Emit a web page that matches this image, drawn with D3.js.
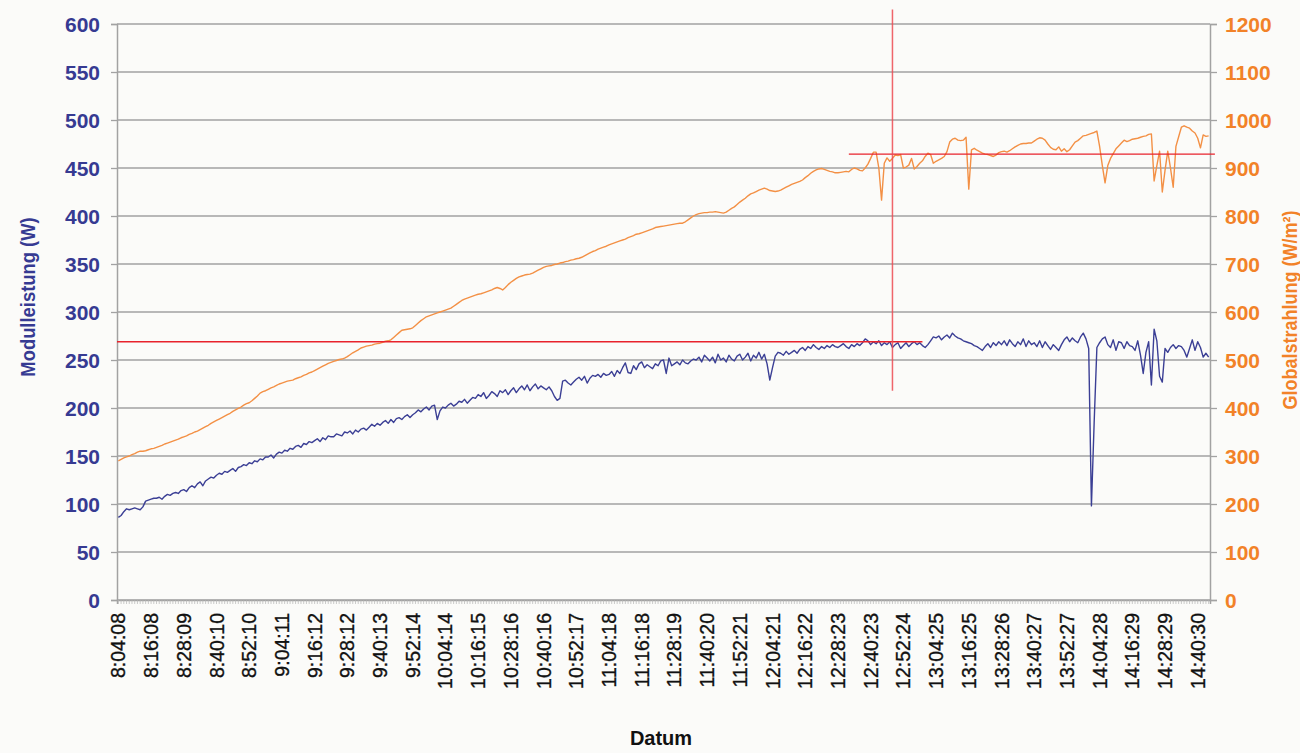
<!DOCTYPE html>
<html>
<head>
<meta charset="utf-8">
<script src="https://cdn.jsdelivr.net/npm/d3@7"></script>
<style>
  html, body { margin: 0; padding: 0; background: #fbfbf9; }
  svg { display: block; }
  text { font-family: "Liberation Sans", Arial, sans-serif; }
</style>
</head>
<body>
<svg id="chart" width="1300" height="753"></svg>
<script>
// Time stamps printed on the category axis (one every 12 samples)
const timeLabels = [
  "8:04:08", "8:16:08", "8:28:09", "8:40:10", "8:52:10", "9:04:11", "9:16:12", "9:28:12",
  "9:40:13", "9:52:14", "10:04:14", "10:16:15", "10:28:16", "10:40:16", "10:52:17", "11:04:18",
  "11:16:18", "11:28:19", "11:40:20", "11:52:21", "12:04:21", "12:16:22", "12:28:23", "12:40:23",
  "12:52:24", "13:04:25", "13:16:25", "13:28:26", "13:40:27", "13:52:27", "14:04:28", "14:16:29",
  "14:28:29", "14:40:30"
];
const labelEvery = 12;

// Module power in W, one sample per minute
const modulleistung = [
  86, 88, 92, 95, 94, 95, 96, 95, 94, 97, 103, 104,
  105, 106, 106, 107, 105, 108, 110, 109, 111, 112, 111, 114,
  115, 113, 117, 119, 117, 121, 123, 119, 124, 126, 128, 127,
  130, 132, 131, 134, 133, 135, 137, 134, 138, 139, 141, 140,
  143, 142, 145, 144, 147, 146, 149, 149, 151, 148, 152, 154,
  153, 156, 155, 158, 157, 160, 161, 159, 163, 162, 165, 164,
  166, 168, 165, 169, 167, 171, 170, 170, 173, 172, 171, 175,
  174, 176, 173, 177, 175, 178, 179, 177, 180, 183, 181, 184,
  182, 185, 187, 184, 188, 185, 189, 190, 188, 191, 193, 190,
  193, 195, 198, 196, 199, 201, 198, 202, 203, 188, 197, 201,
  200, 203, 205, 202, 204, 207, 206, 209, 205, 208, 211, 210,
  214, 212, 216, 210, 213, 217, 215, 212, 218, 216, 219, 214,
  218, 221, 216, 220, 223, 219, 224, 218, 222, 225, 220, 223,
  221, 219, 222, 218, 212, 208, 210, 228, 229, 226, 224, 227,
  230, 232, 229, 233, 226, 231, 234, 233, 235, 232, 236, 234,
  235, 238, 233, 239, 236, 242, 247, 237, 236, 244, 240, 246,
  248, 242, 245, 243, 241, 246, 244, 249, 250, 236, 252, 244,
  246, 248, 245, 250, 247, 246, 249, 251, 250, 253, 248, 255,
  252, 249, 253, 247, 256, 250, 252, 248, 255, 251, 249, 254,
  256, 250, 253, 257, 249, 255, 252, 258, 251, 256, 246, 229,
  242, 254, 258, 257, 255, 259, 256, 258, 260, 257, 261, 263,
  260, 264, 262, 266, 263, 261, 264, 262, 265, 263, 266, 264,
  263, 265, 267, 264, 262, 266, 264, 267, 265, 268, 272, 270,
  266, 269, 267, 270, 265, 268, 266, 269, 263, 266, 268, 262,
  265, 268, 264, 267, 269, 266, 268, 265, 263, 266, 270, 274,
  273, 275, 271, 274, 276, 273, 278, 275, 273, 272, 270, 269,
  268, 267, 265, 264, 262, 260, 264, 267, 263, 268, 265, 269,
  266, 270, 265, 271, 267, 264, 269, 266, 272, 264, 270, 266,
  268, 264, 270, 263, 269, 265, 261, 266, 263, 260, 266, 271,
  274, 269, 273, 270, 268, 274, 278, 272, 262, 98, 185, 263,
  268, 272, 274, 266, 263, 271, 260, 269, 268, 262, 269, 265,
  264, 260, 270, 255, 236, 258, 269, 224, 282, 270, 233, 227,
  262, 258, 263, 266, 262, 265, 264, 260, 253, 262, 271, 260,
  269, 263, 253, 257, 253
];

// Global irradiance in W/m², same samples
const globalstrahlung = [
  290, 293, 296, 298, 300, 303, 305, 308, 310, 310, 311, 313,
  315, 316, 318, 320, 322, 325, 327, 329, 331, 333, 335, 338,
  340, 342, 345, 347, 350, 352, 355, 358, 361, 364, 368, 371,
  374, 377, 380, 383, 386, 389, 393, 396, 399, 402, 406, 409,
  411, 415, 420, 425, 431, 434, 436, 439, 442, 444, 447, 450,
  452, 454, 456, 457, 458, 461, 463, 465, 468, 470, 473, 475,
  478, 481, 484, 487, 490, 493, 495, 497, 499, 501, 502, 504,
  507, 511, 515, 518, 521, 525, 527, 529, 530, 531, 533, 534,
  535, 537, 539, 540, 542, 547, 552, 557, 562, 563, 564, 565,
  567, 572, 577, 582, 586, 590, 592, 594, 596, 598, 600, 602,
  604, 606, 608, 612, 616, 620, 624, 627, 629, 631, 633, 635,
  637, 638, 640, 642, 644, 646, 649, 651, 649, 646, 651, 657,
  662, 666, 670, 673, 675, 677, 678, 679, 681, 684, 687, 690,
  693, 695, 696, 697, 699, 700, 702, 703, 705, 706, 708, 709,
  711, 712, 714, 717, 720, 723, 726, 728, 731, 733, 735, 737,
  740, 742, 744, 746, 748, 750, 752, 755, 757, 759, 762, 763,
  765, 767, 769, 771, 773, 776, 777, 778, 779, 780, 781, 782,
  783, 784, 785, 785, 788, 792, 796, 800, 803, 805, 806, 807,
  807, 808, 808, 809, 808, 807, 806, 808, 812, 816, 819, 824,
  829, 833, 837, 842, 846, 848, 851, 854, 856, 858, 856, 853,
  852, 851, 852, 854, 857, 860, 863, 866, 868, 870, 872, 875,
  880, 884, 889, 893, 896, 898, 899, 897, 895, 893, 892, 890,
  890, 891, 892, 893, 892, 897, 900, 898, 895, 894, 900, 908,
  920, 933, 933, 900, 833, 910, 921, 914, 920, 927, 926, 928,
  900, 902, 906, 920, 898, 903, 910, 915, 924, 931, 928, 910,
  914, 917, 920, 924, 934, 954, 960, 962, 958, 957, 958, 964,
  856, 938, 941, 937, 934, 931, 929, 928, 926, 924, 927, 932,
  934, 935, 933, 936, 940, 944, 947, 950, 951, 951, 952, 952,
  956, 960, 963, 962, 958, 950, 943, 939, 938, 944, 935, 940,
  934, 938, 946, 954, 957, 962, 967, 968, 970, 972, 974, 977,
  945, 905, 869, 905, 920, 930, 940, 946, 952, 958, 955, 957,
  960, 961, 962, 964, 966, 967, 970, 971, 873, 905, 935, 850,
  895, 935, 900, 860, 945, 965, 985, 988, 985, 983, 977, 973,
  962, 942, 969, 966, 967
];

// Axis ticks
const leftTicks = [0, 50, 100, 150, 200, 250, 300, 350, 400, 450, 500, 550, 600];
const rightTicks = [0, 100, 200, 300, 400, 500, 600, 700, 800, 900, 1000, 1100, 1200];

// Reference markers: power level, irradiance level and the moment they meet
const refPower = 269;             // W
const refPowerSpan = [-0.5, 295]; // sample index range
const refIrradiance = 929;        // W/m²
const refIrradianceSpan = [268, 402.3];
const refSample = 284;            // sample index
const refSampleSpan = [218, 615]; // W range of the vertical marker

// ---------------------------------------------------------------
const svg = d3.select("#chart");
const plot = { left: 117, right: 1210, top: 24, bottom: 600 };
const N = modulleistung.length;

const x = d3.scaleBand().domain(d3.range(N)).range([plot.left, plot.right]).padding(0);
const xi = d3.scaleLinear().domain([-0.5, N - 0.5]).range([plot.left, plot.right]);
const yL = d3.scaleLinear().domain([0, 600]).range([plot.bottom, plot.top]);
const yR = d3.scaleLinear().domain([0, 1200]).range([plot.bottom, plot.top]);
const cx = i => x(i) + x.bandwidth() / 2;

const gridColor = "#a2a2a2";
const blue = "#3b3f95";
const orange = "#f39045";
const blueText = "#363a92";
const orangeText = "#f28228";

// horizontal grid
svg.append("g").selectAll("line").data(leftTicks).join("line")
  .attr("x1", plot.left).attr("x2", plot.right)
  .attr("y1", d => yL(d)).attr("y2", d => yL(d))
  .attr("stroke", gridColor).attr("stroke-width", 1.3);

// left axis
const gL = svg.append("g").attr("transform", `translate(${plot.left},0)`)
  .call(d3.axisLeft(yL).tickValues(leftTicks).tickSize(6).tickPadding(11).tickFormat(d3.format("d")));
gL.select(".domain").attr("stroke", gridColor).attr("stroke-width", 1.5);
gL.selectAll(".tick line").attr("stroke", gridColor).attr("stroke-width", 1.3);
gL.selectAll(".tick text").attr("fill", blueText)
  .style("font-size", "21px").style("font-weight", "bold").attr("dy", "0.36em");

// right axis
const gR = svg.append("g").attr("transform", `translate(${plot.right},0)`)
  .call(d3.axisRight(yR).tickValues(rightTicks).tickSize(7).tickPadding(8).tickFormat(d3.format("d")));
gR.select(".domain").attr("stroke", gridColor).attr("stroke-width", 1.5);
gR.selectAll(".tick line").attr("stroke", gridColor).attr("stroke-width", 1.3);
gR.selectAll(".tick text").attr("fill", orangeText)
  .style("font-size", "21px").style("font-weight", "bold").attr("dy", "0.36em");

// bottom axis: one minor tick per sample
const gMinor = svg.append("g").attr("transform", `translate(0,${plot.bottom})`)
  .call(d3.axisBottom(x).tickValues(d3.range(N)).tickSize(4).tickFormat(""));
gMinor.select(".domain").attr("stroke", gridColor).attr("stroke-width", 1.5);
gMinor.selectAll(".tick line").attr("stroke", "#b4b4b4").attr("stroke-width", 0.7);

// bottom axis labels
const labelIdx = timeLabels.map((_, k) => k * labelEvery);
const gX = svg.append("g").attr("transform", `translate(0,${plot.bottom})`)
  .call(d3.axisBottom(x).tickValues(labelIdx).tickSize(0)
    .tickFormat(i => timeLabels[i / labelEvery]));
gX.select(".domain").remove();
gX.selectAll(".tick text")
  .attr("transform", "rotate(-90)")
  .attr("x", -13).attr("y", 0).attr("dy", "0.36em")
  .attr("text-anchor", "end")
  .attr("fill", "#111")
  .attr("stroke", "#111").attr("stroke-width", 0.35)
  .style("font-size", "19.5px");

// axis titles (narrowed along the baseline)
svg.append("text")
  .attr("transform", `translate(35,297) rotate(-90) scale(0.92,1)`)
  .attr("text-anchor", "middle").attr("fill", blueText)
  .style("font-size", "20px").style("font-weight", "bold")
  .text("Modulleistung (W)");
svg.append("text")
  .attr("transform", `translate(1297,310) rotate(-90) scale(0.9,1)`)
  .attr("text-anchor", "middle").attr("fill", orangeText)
  .style("font-size", "20px").style("font-weight", "bold")
  .text("Globalstrahlung (W/m²)");
svg.append("text")
  .attr("x", 661).attr("y", 745)
  .attr("text-anchor", "middle").attr("fill", "#111")
  .style("font-size", "20px").style("font-weight", "bold")
  .text("Datum");

// series
svg.append("path").datum(globalstrahlung)
  .attr("fill", "none").attr("stroke", orange).attr("stroke-width", 1.4)
  .attr("stroke-linejoin", "round")
  .attr("d", d3.line().x((d, i) => cx(i)).y(d => yR(d)));
svg.append("path").datum(modulleistung)
  .attr("fill", "none").attr("stroke", blue).attr("stroke-width", 1.4)
  .attr("stroke-linejoin", "round")
  .attr("d", d3.line().x((d, i) => cx(i)).y(d => yL(d)));

// reference markers
svg.append("line")
  .attr("x1", xi(refPowerSpan[0])).attr("x2", xi(refPowerSpan[1]))
  .attr("y1", yL(refPower)).attr("y2", yL(refPower))
  .attr("stroke", "#e8232c").attr("stroke-width", 1.3);
svg.append("line")
  .attr("x1", xi(refIrradianceSpan[0])).attr("x2", xi(refIrradianceSpan[1]))
  .attr("y1", yR(refIrradiance)).attr("y2", yR(refIrradiance))
  .attr("stroke", "#e8232c").attr("stroke-width", 1.4);
svg.append("line")
  .attr("x1", cx(refSample)).attr("x2", cx(refSample))
  .attr("y1", yL(refSampleSpan[1])).attr("y2", yL(refSampleSpan[0]))
  .attr("stroke", "#ec4a52").attr("stroke-opacity", 0.85).attr("stroke-width", 1.5);
</script>
</body>
</html>
